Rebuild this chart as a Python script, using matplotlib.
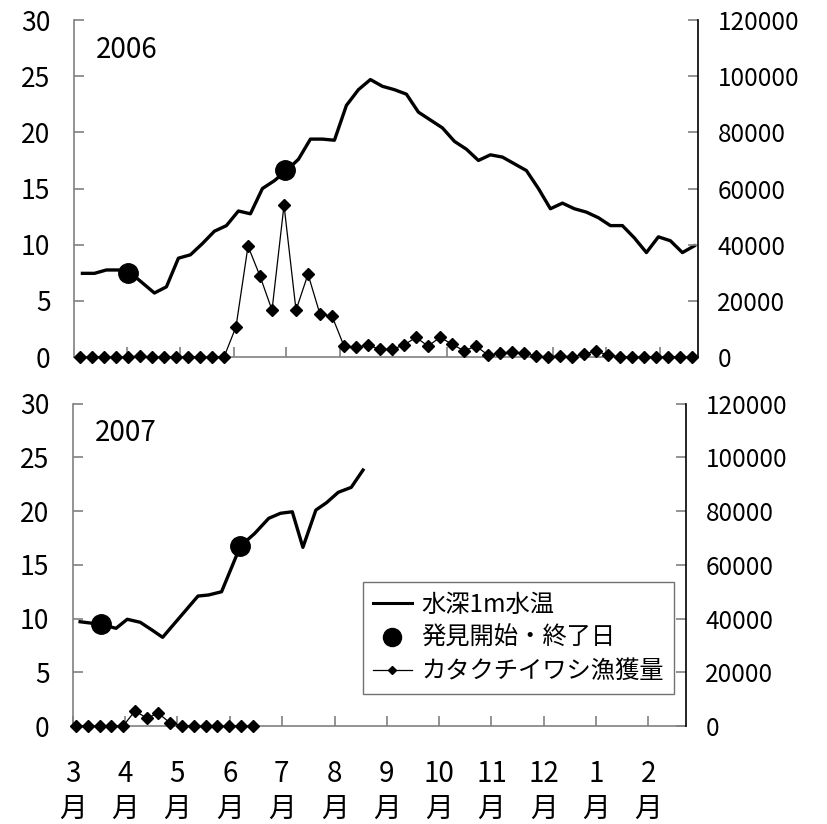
import matplotlib
matplotlib.use('Agg')
import matplotlib.pyplot as plt
from matplotlib.lines import Line2D
import numpy as np

plt.rcParams['font.family'] = ['Noto Sans CJK JP', 'DejaVu Sans']

# ---------------------------------------------------------------- data
MONTHS = ['3', '4', '5', '6', '7', '8', '9', '10', '11', '12', '1', '2']
# month boundaries on the weekly axis (week 0 = first week of March)
MONTH_EDGES = [3.9, 8.3, 12.8, 17.2, 21.7, 26.1, 30.55, 35.0, 39.45, 43.85, 48.3]

# 2006 weekly anchovy catch and 1 m water temperature
CATCH_2006 = [0, 0, 0, 0, 0, 300, 0, 0, 0, 0, 0, 0, 0, 10800, 39500, 28800,
              16700, 54100, 16700, 29500, 15200, 14600, 3900, 3450, 4300, 2700,
              2700, 4300, 7000, 3900, 7000, 4600, 2200, 3900, 700, 1300, 1900,
              1300, 400, 0, 500, 0, 1200, 2000, 800, 0, 0, 0, 0, 0, 0, 0]
TEMP_2006 = [7.45, 7.45, 7.75, 7.75, 7.5, 6.6, 5.7, 6.25, 8.8, 9.1, 10.1, 11.2,
             11.7, 13.0, 12.75, 15.0, 15.7, 16.6, 17.6, 19.4, 19.4, 19.3, 22.4,
             23.8, 24.7, 24.1, 23.8, 23.4, 21.8, 21.1, 20.4, 19.2, 18.5, 17.5,
             18.0, 17.8, 17.2, 16.6, 15.0, 13.2, 13.7, 13.2, 12.9, 12.4, 11.7,
             11.7, 10.6, 9.3, 10.7, 10.35, 9.3, 9.9]
FOUND_2006_WEEK = [4.0, 17.1]
FOUND_2006_TEMP = [7.5, 16.65]

# 2007 (season still running)
CATCH_2007 = [0, 0, 0, 0, 0, 5600, 3000, 4700, 1100, 0, 0, 0, 0, 0, 0, 0]
TEMP_2007_WEEK = [0.1, 1.85, 3.15, 4.1, 5.2, 6.2, 7.1, 10.1, 11.0, 12.1, 13.7,
                  14.9, 16.1, 17.1, 18.1, 19.0, 20.1, 21.0, 22.0, 23.1, 24.1]
TEMP_2007 = [9.7, 9.46, 9.09, 9.93, 9.65, 8.93, 8.25, 12.09, 12.19, 12.49, 16.74,
             17.9, 19.32, 19.79, 19.93, 16.62, 20.09, 20.77, 21.74, 22.2, 23.81]
FOUND_2007_WEEK = [1.85, 13.7]
FOUND_2007_TEMP = [9.46, 16.74]

LABELS = ['水深1m水温', '発見開始・終了日', 'カタクチイワシ漁獲量']


def draw_panel(ax, catch_week, catch, temp_week, temp, found_week, found_temp, year):
    ax2 = ax.twinx()

    ax.plot(temp_week, temp, color='black', lw=2.4, solid_joinstyle='round',
            zorder=3)
    ax.plot(found_week, found_temp, 'o', color='black', ms=14, zorder=4)
    ax2.plot(catch_week, catch, color='black', lw=0.9, marker='D', ms=6.5,
             clip_on=False, zorder=3)

    ax.set_xlim(-0.5, 51.5)
    ax.set_ylim(0, 30)
    ax.set_yticks(range(0, 31, 5))
    ax2.set_ylim(0, 120000)
    ax2.set_yticks(range(0, 120001, 20000))

    for s in ['top', 'right']:
        ax.spines[s].set_visible(False)
    for s in ['top', 'left', 'bottom']:
        ax2.spines[s].set_visible(False)
    ax.spines['left'].set_color('0.5')
    ax.spines['bottom'].set_color('0.5')
    ax.spines['left'].set_linewidth(1.2)
    ax.spines['bottom'].set_linewidth(1.2)
    ax2.spines['right'].set_color('black')
    ax2.spines['right'].set_linewidth(1.2)

    ax.tick_params(axis='y', direction='in', length=7, width=1.2, color='0.5',
                   labelsize=19, pad=17)
    ax.tick_params(axis='x', direction='in', length=7, width=1.2, color='0.5')
    ax2.tick_params(axis='y', direction='in', length=7, width=1.2, color='0.5',
                    labelsize=17.5, pad=14)

    ax.text(0.035, 0.91, year, transform=ax.transAxes, fontsize=20,
            ha='left', va='center')
    return ax2


fig = plt.figure(figsize=(8.28, 8.24), dpi=100)
ax_top = fig.add_axes([0.0894, 0.5667, 0.7536, 0.409])
ax_bot = fig.add_axes([0.0882, 0.1189, 0.7403, 0.3914])

draw_panel(ax_top, np.arange(len(CATCH_2006)), CATCH_2006,
           np.arange(len(TEMP_2006)) + 0.2, TEMP_2006,
           FOUND_2006_WEEK, FOUND_2006_TEMP, '2006')
ax_top.set_xticks(MONTH_EDGES)
ax_top.set_xticklabels([])

draw_panel(ax_bot, np.arange(len(CATCH_2007)) - 0.25, CATCH_2007,
           TEMP_2007_WEEK, TEMP_2007, FOUND_2007_WEEK, FOUND_2007_TEMP, '2007')
ax_bot.set_xticks([-0.5] + MONTH_EDGES)
ax_bot.set_xticklabels([m + '\n月' for m in MONTHS], fontsize=20,
                       linespacing=1.2)
ax_bot.tick_params(axis='x', pad=24)

handles = [
    Line2D([], [], color='black', lw=2.2),
    Line2D([], [], color='black', ls='none', marker='o', ms=13),
    Line2D([], [], color='black', lw=0.9, marker='D', ms=4.5),
]
leg = ax_bot.legend(handles, LABELS, loc='upper left',
                    bbox_to_anchor=(0.473, 0.4465), borderaxespad=0,
                    fontsize=17.5, frameon=True, fancybox=False,
                    handlelength=1.6, handletextpad=0.4, labelspacing=0.3,
                    borderpad=0.4)
leg.get_frame().set_edgecolor('0.3')
leg.get_frame().set_linewidth(1.0)

fig.savefig('out.png', dpi=100)
